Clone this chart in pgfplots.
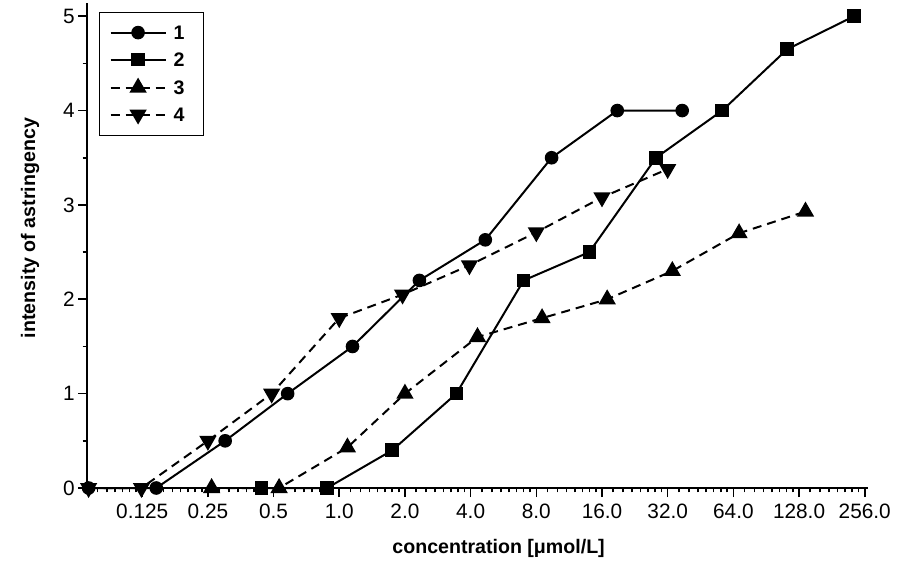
\documentclass[border=0pt]{standalone}
\usepackage{fontspec}
\setmainfont{Liberation Sans}
\usepackage{pgfplots}
\pgfplotsset{compat=1.18}
\begin{document}
\begin{tikzpicture}
\begin{axis}[
  at={(43.5pt,45pt)}, anchor=south west,
  scale only axis, width=390.5pt, height=242.5pt,
  xmode=log, log basis x=2,
  xmin=0.0698, xmax=265, ymin=0, ymax=5.14,
  clip=false,
  axis x line*=bottom, axis y line*=left,
  axis line style={line width=1pt,-},
  tick align=outside,
  major tick length=4.5pt, minor tick length=2.2pt,
  every tick/.style={black, line width=0.8pt},
  xtick={0.125,0.25,0.5,1,2,4,8,16,32,64,128,256},
  xticklabels={0.125,0.25,0.5,1.0,2.0,4.0,8.0,16.0,32.0,64.0,128.0,256.0},
  extra x ticks={0.0703125,0.078125,0.0859375,0.09375,0.1015625,0.109375,0.1171875,
    0.140625,0.15625,0.171875,0.1875,0.203125,0.21875,0.234375,
    0.28125,0.3125,0.34375,0.375,0.40625,0.4375,0.46875,
    0.5625,0.625,0.6875,0.75,0.8125,0.875,0.9375,
    1.125,1.25,1.375,1.5,1.625,1.75,1.875,
    2.25,2.5,2.75,3,3.25,3.5,3.75,
    4.5,5,5.5,6,6.5,7,7.5,
    9,10,11,12,13,14,15,
    18,20,22,24,26,28,30,
    36,40,44,48,52,56,60,
    72,80,88,96,104,112,120,
    144,160,176,192,208,224,240},
  extra x tick labels={},
  extra x tick style={major tick length=2.2pt, every tick/.style={black, line width=0.8pt}},
  ytick={0,1,2,3,4,5},
  minor y tick num=1,
  /pgf/number format/assume math mode=true,
  ticklabel style={font=\fontsize{10.4}{12}\selectfont},
  yticklabel style={inner xsep=1.5pt},
  xlabel={concentration [μmol/L]},
  ylabel={intensity of astringency},
  xlabel style={at={(axis description cs:0.527,0)}, anchor=center, yshift=-30pt, font=\fontsize{9.8}{12}\selectfont\bfseries},
  ylabel style={at={(axis description cs:-0.073,0.536)}, anchor=center, font=\fontsize{9.8}{12}\selectfont\bfseries},
  legend cell align=left,
  legend style={at={(0,1)}, anchor=north west, xshift=6pt, yshift=-4.5pt,
    draw=black, line width=0.6pt, inner xsep=5pt, inner ysep=6.5pt,
    font=\fontsize{9.8}{12}\selectfont\bfseries,
    nodes={inner xsep=0pt, inner ysep=0pt, text height=7pt, text depth=0pt},
    row sep=6.5pt, column sep=3.5pt},
  legend image code/.code={
    \draw[mark repeat=2,mark phase=2,#1] plot coordinates {(0pt,0pt) (13.75pt,0pt) (27.5pt,0pt)};
  },
  every axis plot/.append style={black, line width=1pt},
]
\addplot[solid, mark=*, mark size=2.9pt, mark options={solid}] coordinates {
  (0.071,0) (0.145,0) (0.30,0.5) (0.58,1.0) (1.15,1.5) (2.33,2.2) (4.67,2.63) (9.4,3.5) (18.8,4.0) (37.3,4.0)};
\addlegendentry{\makebox[10pt][l]{1}}
\addplot[solid, mark=square*, mark size=2.9pt, mark options={solid}] coordinates {
  (0.44,0) (0.88,0) (1.75,0.4) (3.44,1.0) (7.0,2.2) (14.0,2.5) (28.3,3.5) (56.9,4.0) (113,4.65) (229,5.0)};
\addlegendentry{\makebox[10pt][l]{2}}
\addplot[dash pattern=on 4.5pt off 3pt, mark=triangle*, mark size=4pt, mark options={solid}] coordinates {
  (0.26,0) (0.53,0) (1.09,0.43) (2.0,1.0) (4.3,1.6) (8.5,1.8) (16.9,2.0) (33.6,2.3) (68,2.7) (137,2.93)};
\addlegendentry{\makebox[10pt][l]{3}}
\addplot[dash pattern=on 4.5pt off 3pt, mark=triangle*, mark size=4pt, mark options={solid, rotate=180}] coordinates {
  (0.071,0) (0.124,0) (0.25,0.5) (0.49,1.0) (1.0,1.8) (1.95,2.05) (3.95,2.36) (8,2.71) (16,3.08) (32,3.38)};
\addlegendentry{\makebox[10pt][l]{4}}
\end{axis}
\pgfresetboundingbox
\path (0,0) rectangle (460pt,289pt);
\end{tikzpicture}
\end{document}
